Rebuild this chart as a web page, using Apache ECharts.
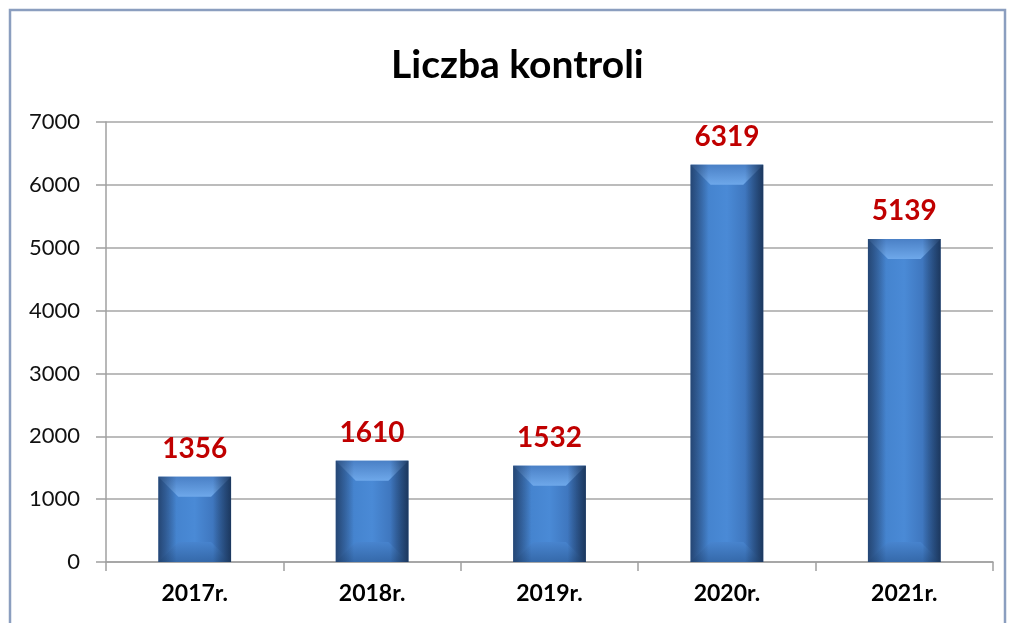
<!DOCTYPE html>
<html>
<head>
<meta charset="utf-8">
<script src="https://cdn.jsdelivr.net/npm/echarts@6/dist/echarts.min.js"></script>
<style>
  html, body { margin: 0; padding: 0; background: #fff; }
  #chart { width: 1010px; height: 623px; }
</style>
</head>
<body>
<div id="chart"></div>
<script>
// dane
var years = ['2017r.', '2018r.', '2019r.', '2020r.', '2021r.'];
var kontrole = [1356, 1610, 1532, 6319, 5139];
var yTicks = [0, 1000, 2000, 3000, 4000, 5000, 6000, 7000];

var chart = echarts.init(document.getElementById('chart'));
var FONT = 'Lato, "Open Sans", sans-serif';
var BEVEL = 20;

function grad(x0, y0, x1, y1, stops) {
    return new echarts.graphic.LinearGradient(x0, y0, x1, y1, stops.map(function (c, i) {
        return { offset: i / (stops.length - 1), color: c };
    }));
}

// fazowanie slupka (gora i dol)
function renderBevel(params, api) {
    var top = api.coord([api.value(0), api.value(1)]);
    var base = api.coord([api.value(0), 0]);
    var w = api.size([1, 0])[0] * 0.41;
    var l = top[0] - w / 2, r = top[0] + w / 2;
    var t = top[1], b = base[1];
    var h = b - t;
    var bv = Math.min(BEVEL, h / 2, w / 2);
    return {
        type: 'group',
        children: [
            {
                type: 'polygon',
                shape: { points: [[l, t], [r, t], [r - bv, t + bv], [l + bv, t + bv]] },
                style: { fill: grad(0, 0, 0, 1, ['#4a80c6', '#6ea8ea']) }
            },
            {
                type: 'polygon',
                shape: { points: [[l, b], [r, b], [r - bv, b - bv], [l + bv, b - bv]] },
                style: { fill: grad(0, 0, 0, 1, ['#4884ce', '#3366a6']), opacity: 0.9 }
            },
            {
                type: 'rect',
                shape: { x: l, y: t, width: w, height: h },
                style: { fill: grad(0, 0, 1, 0, ['rgba(20,40,70,0.55)', 'rgba(20,40,70,0)', 'rgba(20,40,70,0)', 'rgba(20,40,70,0)', 'rgba(20,40,70,0.75)']) }
            }
        ]
    };
}

var option = {
    backgroundColor: '#ffffff',
    animation: false,
    title: {
        text: 'Liczba kontroli',
        left: 386,
        top: 41,
        textStyle: { fontFamily: FONT, fontSize: 39, fontWeight: 'bold', color: '#000000' }
    },
    graphic: [{
        type: 'rect',
        shape: { x: 10, y: 10, width: 995, height: 700 },
        style: { fill: 'none', stroke: '#8b9ebf', lineWidth: 2.5 },
        z: 100
    }],
    grid: { left: 106, right: 17, top: 122, bottom: 61 },
    xAxis: {
        type: 'category',
        data: years,
        axisLine: { lineStyle: { color: '#a0a0a0', width: 1.5 } },
        axisTick: { show: true, length: 9, lineStyle: { color: '#a0a0a0', width: 1.5 } },
        axisLabel: { margin: 20, fontFamily: FONT, fontSize: 23, fontWeight: 'bold', color: '#000000' }
    },
    yAxis: {
        type: 'value',
        min: yTicks[0],
        max: yTicks[yTicks.length - 1],
        interval: 1000,
        axisLine: { show: true, lineStyle: { color: '#a0a0a0', width: 1.5 } },
        axisTick: { show: true, length: 10, lineStyle: { color: '#a0a0a0', width: 1.5 } },
        splitLine: { lineStyle: { color: '#a6a6a6', width: 1.5 } },
        axisLabel: {
            margin: 26, fontFamily: FONT, fontSize: 22, color: '#111111',
            formatter: function (v) { return String(v); }
        }
    },
    series: [
        {
            type: 'bar',
            data: kontrole,
            barWidth: '41%',
            itemStyle: { color: grad(0, 0, 1, 0, ['#3a6cae', '#4584cf', '#4a8ad6', '#3f77bf', '#3466a6']) },
            label: {
                show: true,
                position: 'top',
                distance: 14,
                fontFamily: FONT,
                fontSize: 28,
                fontWeight: 'bold',
                color: '#c00000'
            }
        },
        {
            type: 'custom',
            renderItem: renderBevel,
            data: kontrole.map(function (v, i) { return [i, v]; }),
            encode: { x: 0, y: 1 },
            z: 3,
            silent: true
        }
    ]
};

chart.setOption(option);
</script>
</body>
</html>
